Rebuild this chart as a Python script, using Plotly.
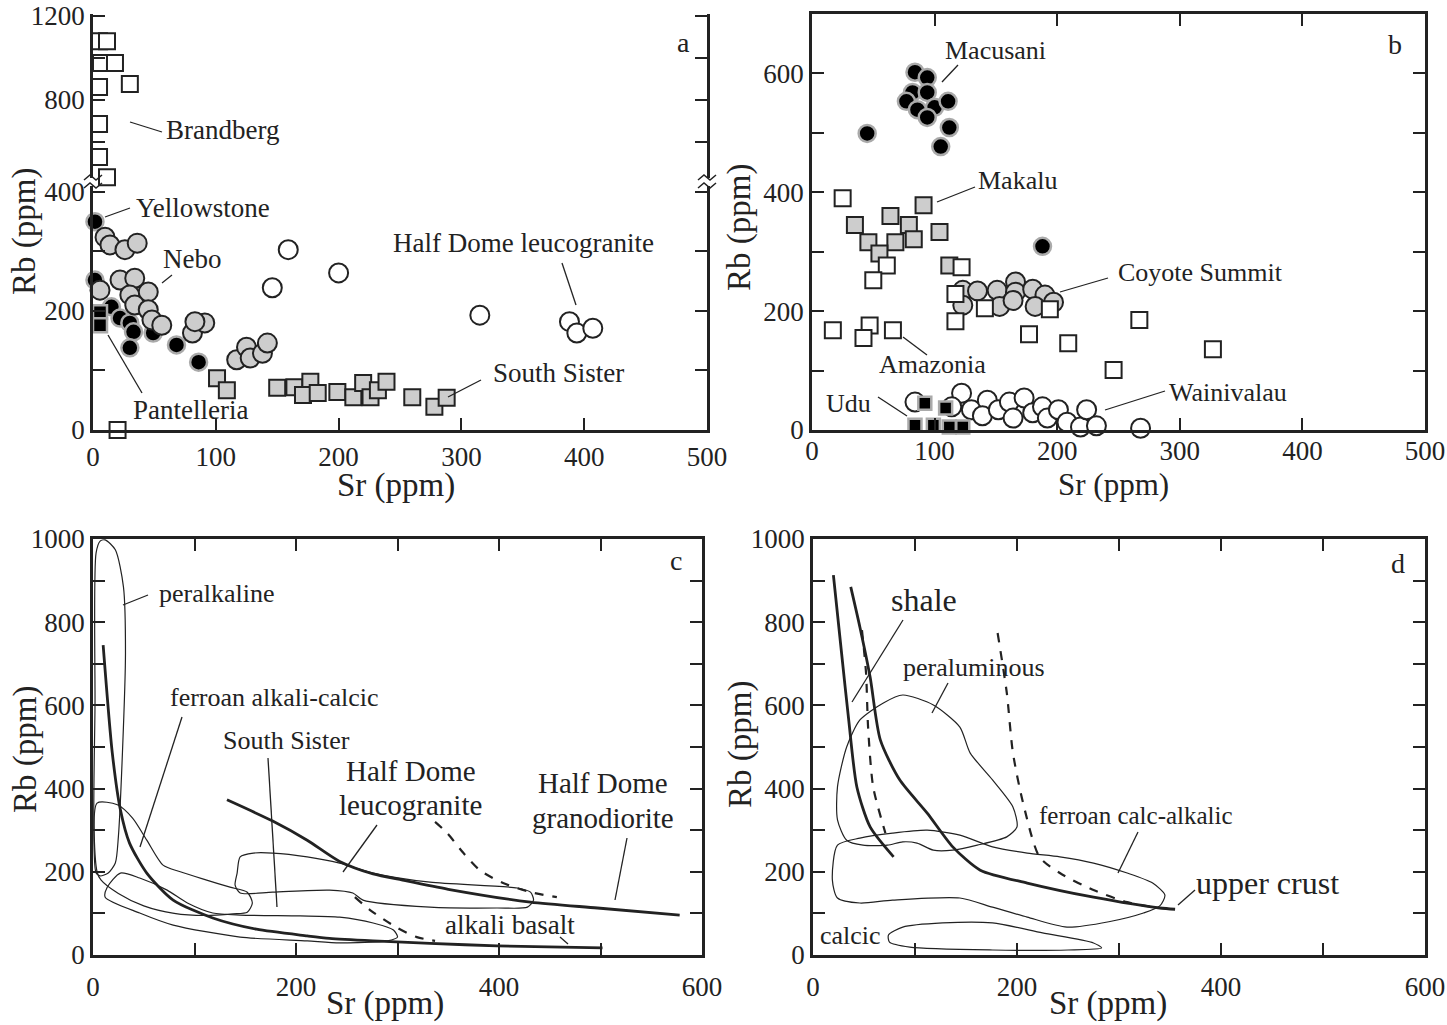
import plotly.graph_objects as go

W, H = 1447, 1025
FONT = "Liberation Serif"
INK = "#222222"
GRAY = "#cdcdcd"

# ---------------- Panel a data (Sr, Rb ppm) ----------------
a_brandberg_sr = [4.9, 11.4, 6.5, 17.9, 4.9, 30, 4.9, 4.9, 11.4]
a_brandberg_rb = [1080, 1080, 976, 976, 862, 876, 686, 529, 432]
a_brandberg_low_sr = [20]
a_brandberg_low_rb = [0]
a_yellow_sr = [1.6, 1.6, 15, 22, 30, 33, 49, 30, 68, 86]
a_yellow_rb = [350, 252, 207, 188, 180, 165, 163, 138, 143, 114]
a_nebo_sr = [9.8, 13.8, 26, 36, 5.7, 22, 34, 30, 45, 34, 45, 48, 56, 81, 91, 83, 117, 125, 128, 138, 142]
a_nebo_rb = [324, 311, 303, 314, 235, 252, 255, 227, 232, 210, 202, 185, 176, 163, 180, 182, 118, 139, 121, 129, 146]
a_pant_sr = [5.7, 5.7]
a_pant_rb = [198, 176]
a_halfdome_sr = [159, 200, 146, 315, 388, 394, 407]
a_halfdome_rb = [303, 264, 239, 193, 182, 163, 171]
a_south_sr = [101, 109, 150, 164, 177, 171, 183, 199, 212, 220, 226, 232, 239, 260, 278, 288]
a_south_rb = [87, 67, 71, 72, 81, 59, 62, 64, 55, 79, 55, 67, 81, 55, 39, 54]

# ---------------- Panel b data ----------------
b_macusani_sr = [84, 94, 82, 94, 77, 86, 100, 111, 94, 112, 45, 105, 188]
b_macusani_rb = [602, 593, 568, 568, 553, 539, 543, 553, 526, 509, 499, 477, 309]
b_makalu_sr = [91, 35, 64, 79, 46, 68, 83, 55, 104, 112]
b_makalu_rb = [378, 345, 360, 345, 316, 316, 321, 297, 333, 277]
b_coyote_sr = [123, 135, 151, 166, 166, 180, 190, 197, 123, 153, 164, 182]
b_coyote_rb = [235, 234, 235, 249, 232, 237, 227, 215, 210, 208, 218, 208]
b_amazonia_sr = [25, 61, 50, 122, 117, 117, 141, 194, 17, 47, 42, 66, 177, 209, 267, 246, 327]
b_amazonia_rb = [390, 277, 252, 274, 229, 183, 205, 203, 168, 176, 155, 168, 161, 146, 185, 101, 136]
b_waini_sr = [84, 122, 114, 130, 143, 139, 152, 161, 164, 173, 180, 188, 192, 201, 208, 219, 224, 232, 268]
b_waini_rb = [47, 62, 39, 34, 50, 24, 34, 47, 20, 54, 29, 39, 20, 34, 13, 5, 34, 7, 3]
b_udu_sr = [92, 84, 99, 109, 112, 123]
b_udu_rb = [45, 8, 8, 37, 5, 5]

# ---------------- Panel c data (fields and trends) ----------------
c_peralk_sr = [3, 2, 3, 7, 12, 22, 30, 32, 29, 25, 22, 15, 7, 3]
c_peralk_rb = [197, 613, 966, 995, 998, 974, 885, 726, 486, 284, 221, 197, 190, 197]
c_fac_sr = [4, 24, 39, 53, 69, 86, 112, 135, 152, 157, 152, 138, 110, 80, 50, 25, 8, 4, 4]
c_fac_rb = [365, 361, 329, 276, 216, 200, 180, 163, 151, 125, 103, 99, 95, 100, 118, 148, 180, 200, 365]
c_ss_sr = [14, 27, 46, 73, 93, 118, 145, 204, 243, 276, 296, 300, 290, 243, 211, 145, 79, 46, 12, 14]
c_ss_rb = [163, 197, 185, 156, 125, 101, 96, 94, 91, 77, 60, 43, 34, 29, 34, 43, 72, 101, 139, 163]
c_hdl_sr = [142, 145, 158, 177, 211, 243, 276, 332, 418, 431, 434, 428, 398, 332, 266, 256, 233, 177, 145, 140, 142]
c_hdl_rb = [197, 236, 245, 245, 236, 221, 197, 175, 161, 151, 132, 115, 113, 115, 132, 149, 156, 151, 149, 168, 197]
c_trend1_sr = [10, 19, 27, 36, 53, 79, 118, 161, 211, 233, 276, 332, 398, 502]
c_trend1_rb = [745, 486, 349, 269, 197, 132, 89, 62, 46, 40, 34, 28, 22, 17]
c_grano_sr = [132, 177, 211, 243, 276, 305, 350, 431, 497, 578]
c_grano_rb = [373, 322, 276, 225, 195, 180, 158, 127, 113, 96]
c_dash1_sr = [337, 349, 365, 381, 404, 431, 457]
c_dash1_rb = [320, 293, 245, 204, 173, 151, 139]
c_dash2_sr = [258, 273, 300, 319, 337]
c_dash2_rb = [139, 108, 65, 43, 34]

# ---------------- Panel d data ----------------
d_lineA_sr = [20, 28, 35, 43, 56, 79]
d_lineA_rb = [913, 726, 565, 404, 308, 236]
d_lineB_sr = [37, 46, 56, 66, 85, 112, 137, 164, 210, 275, 340, 355]
d_lineB_rb = [885, 788, 668, 517, 421, 341, 260, 204, 173, 139, 113, 110]
d_dash1_sr = [48, 52, 54, 59, 71]
d_dash1_rb = [781, 678, 548, 404, 293]
d_dash2_sr = [181, 190, 196, 206, 222, 242, 275, 308, 340, 355]
d_dash2_rb = [774, 630, 486, 365, 236, 197, 156, 127, 113, 110]
d_peral_sr = [88, 118, 144, 154, 176, 196, 200, 190, 161, 137, 118, 102, 88, 73, 49, 33, 24, 24, 33, 46, 69, 88]
d_peral_rb = [625, 601, 548, 486, 421, 356, 308, 284, 264, 252, 252, 269, 272, 264, 264, 276, 325, 404, 500, 565, 606, 625]
d_fca_sr = [24, 46, 78, 112, 144, 176, 210, 242, 275, 308, 333, 345, 340, 324, 290, 249, 210, 176, 144, 78, 46, 24, 19, 24]
d_fca_rb = [264, 281, 293, 300, 288, 260, 245, 236, 221, 197, 173, 144, 118, 101, 80, 67, 91, 115, 137, 132, 125, 137, 180, 264]
d_calcic_sr = [74, 88, 127, 176, 225, 275, 283, 250, 176, 95, 75, 74]
d_calcic_rb = [48, 67, 77, 77, 53, 29, 17, 12, 12, 19, 31, 48]


def px(x):
    return x / W


def py(y):
    return 1 - y / H


fig = go.Figure()


def pts(x, y, xa, ya, symbol, fill, lcol=INK, size=18, lw=2):
    fig.add_trace(go.Scatter(
        x=x, y=y, xaxis=xa, yaxis=ya, mode="markers", cliponaxis=False,
        marker=dict(symbol=symbol, size=size, color=fill, line=dict(color=lcol, width=lw)),
        showlegend=False, hoverinfo="skip"))


def curve(x, y, xa, ya, width=1.2, dash="solid", smooth=0.7):
    fig.add_trace(go.Scatter(
        x=x, y=y, xaxis=xa, yaxis=ya, mode="lines", cliponaxis=False,
        line=dict(color=INK, width=width, dash=dash, shape="spline", smoothing=smooth),
        showlegend=False, hoverinfo="skip"))


# Panel a
pts(a_brandberg_sr, a_brandberg_rb, "x", "y2", "square", "white", size=16)
pts(a_brandberg_low_sr, a_brandberg_low_rb, "x", "y", "square", "white", size=16)
pts(a_halfdome_sr, a_halfdome_rb, "x", "y", "circle", "white", size=19)
pts(a_yellow_sr, a_yellow_rb, "x", "y", "circle", "black", lcol="#aaaaaa", size=17, lw=2.5)
pts(a_nebo_sr, a_nebo_rb, "x", "y", "circle", GRAY, size=19)
pts(a_pant_sr, a_pant_rb, "x", "y", "square", "black", lcol="#aaaaaa", size=14, lw=2.5)
pts(a_south_sr, a_south_rb, "x", "y", "square", GRAY, size=16)

# Panel b
pts(b_macusani_sr, b_macusani_rb, "x2", "y3", "circle", "black", lcol="#aaaaaa", size=17, lw=2.5)
pts(b_coyote_sr, b_coyote_rb, "x2", "y3", "circle", GRAY, size=19)
pts(b_makalu_sr, b_makalu_rb, "x2", "y3", "square", GRAY, size=16)
pts(b_amazonia_sr, b_amazonia_rb, "x2", "y3", "square", "white", size=16)
pts(b_waini_sr, b_waini_rb, "x2", "y3", "circle", "white", size=19)
pts(b_udu_sr, b_udu_rb, "x2", "y3", "square", "black", lcol="#aaaaaa", size=13, lw=2.5)

# Panel c
curve(c_peralk_sr, c_peralk_rb, "x3", "y4")
curve(c_fac_sr, c_fac_rb, "x3", "y4")
curve(c_ss_sr, c_ss_rb, "x3", "y4")
curve(c_hdl_sr, c_hdl_rb, "x3", "y4")
curve(c_trend1_sr, c_trend1_rb, "x3", "y4", width=2.8)
curve(c_grano_sr, c_grano_rb, "x3", "y4", width=2.8)
curve(c_dash1_sr, c_dash1_rb, "x3", "y4", width=2.2, dash="dash")
curve(c_dash2_sr, c_dash2_rb, "x3", "y4", width=2.2, dash="dash")

# Panel d
curve(d_peral_sr, d_peral_rb, "x4", "y5")
curve(d_fca_sr, d_fca_rb, "x4", "y5")
curve(d_calcic_sr, d_calcic_rb, "x4", "y5")
curve(d_lineA_sr, d_lineA_rb, "x4", "y5", width=2.8)
curve(d_lineB_sr, d_lineB_rb, "x4", "y5", width=2.8)
curve(d_dash1_sr, d_dash1_rb, "x4", "y5", width=2.2, dash="dash")
curve(d_dash2_sr, d_dash2_rb, "x4", "y5", width=2.2, dash="dash")

tickfont = dict(family=FONT, size=27, color=INK)
axbase = dict(showgrid=False, zeroline=False, showline=True, linecolor=INK, linewidth=2.5,
              ticks="inside", ticklen=12, tickwidth=2, tickcolor=INK, tickfont=tickfont,
              automargin=False)


def lbl(vals, every):
    return [str(v) if v % every == 0 else "" for v in vals]


xa_dom = [px(93), px(707)]
xb_dom = [px(812), px(1425)]
xc_dom = [px(93), px(702)]
xd_dom = [px(813), px(1425)]
ya_low = [py(430), py(186)]
ya_up = [py(178), py(14)]
yb_dom = [py(430), py(14)]
ycd_dom = [py(955), py(539)]

t500 = [0, 100, 200, 300, 400, 500]
t600 = [0, 100, 200, 300, 400, 500, 600]
t700 = [0, 100, 200, 300, 400, 500, 600, 700]
t1000 = list(range(0, 1001, 100))

fig.update_layout(
    template="none",
    width=W, height=H, margin=dict(l=0, r=0, t=0, b=0, pad=0), autosize=False,
    paper_bgcolor="white", plot_bgcolor="white", showlegend=False,
    xaxis=dict(axbase, domain=xa_dom, range=[0, 500], anchor="y", tickvals=t500, mirror=False,
               ticklabelstandoff=1),
    xaxis5=dict(axbase, domain=xa_dom, range=[0, 500], anchor="y2", overlaying="x", side="top",
                tickvals=[100, 200, 300, 400], showticklabels=False),
    yaxis=dict(axbase, domain=ya_low, range=[0, 410], anchor="x", mirror="ticks",
               tickvals=[0, 100, 200, 300, 400], ticktext=["0", "", "200", "", "400"]),
    yaxis2=dict(axbase, domain=ya_up, range=[429, 1209.5], anchor="x", mirror="ticks",
                tickvals=[600, 800, 1000, 1200], ticktext=["", "800", "", "1200"]),
    xaxis2=dict(axbase, domain=xb_dom, range=[0, 500], anchor="y3", tickvals=t500, mirror="ticks",
                ticklabelstandoff=-5),
    yaxis3=dict(axbase, domain=yb_dom, range=[0, 700], anchor="x2", mirror="ticks",
                tickvals=t700, ticktext=lbl(t700, 200)),
    xaxis3=dict(axbase, domain=xc_dom, range=[0, 600], anchor="y4", mirror="ticks",
                tickvals=t600, ticktext=lbl(t600, 200), ticklabelstandoff=6),
    yaxis4=dict(axbase, domain=ycd_dom, range=[0, 1000], anchor="x3", mirror="ticks",
                tickvals=t1000, ticktext=lbl(t1000, 200)),
    xaxis4=dict(axbase, domain=xd_dom, range=[0, 600], anchor="y5", mirror="ticks",
                tickvals=t600, ticktext=lbl(t600, 200), ticklabelstandoff=6),
    yaxis5=dict(axbase, domain=ycd_dom, range=[0, 1000], anchor="x4", mirror="ticks",
                tickvals=t1000, ticktext=lbl(t1000, 200)),
)

# ---------- labels ----------
labels = [
    ("a", 683, 42, 28), ("b", 1395, 44, 28), ("c", 676, 560, 28), ("d", 1398, 563, 28),
    ("Brandberg", 222, 130, 27), ("Yellowstone", 203, 208, 27), ("Nebo", 192, 259, 27),
    ("Pantelleria", 190, 410, 27), ("Half Dome leucogranite", 523, 243, 27),
    ("South Sister", 558, 373, 27),
    ("Macusani", 995, 50, 26), ("Makalu", 1017, 181, 26), ("Coyote Summit", 1200, 272, 26),
    ("Amazonia", 932, 364, 26), ("Udu", 848, 403, 26), ("Wainivalau", 1228, 392, 26),
    ("peralkaline", 217, 593, 26), ("ferroan alkali-calcic", 274, 697, 26),
    ("South Sister", 286, 740, 26), ("Half Dome", 411, 771, 29), ("leucogranite", 411, 805, 29),
    ("Half Dome", 603, 783, 29), ("granodiorite", 603, 818, 29), ("alkali basalt", 510, 925, 27),
    ("shale", 924, 600, 32), ("peraluminous", 974, 667, 26), ("ferroan calc-alkalic", 1136, 815, 25),
    ("upper crust", 1267, 883, 32), ("calcic", 850, 935, 26),
]
ann = []
for t, x, y, s in labels:
    ann.append(dict(text=t, x=px(x), y=py(y), xref="paper", yref="paper", showarrow=False,
                    xanchor="center", yanchor="middle", font=dict(family=FONT, size=s, color=INK)))
for x, y in [(25, 232), (25, 750), (740, 228), (740, 745)]:
    ann.append(dict(text="Rb (ppm)", x=px(x), y=py(y), xref="paper", yref="paper", showarrow=False,
                    xanchor="center", yanchor="middle",
                    textangle=-90, font=dict(family=FONT, size=33, color=INK)))
for x, y, s in [(396, 485, 33), (1113, 484, 31), (385, 1003, 33), (1108, 1003, 33)]:
    ann.append(dict(text="Sr (ppm)", x=px(x), y=py(y), xref="paper", yref="paper", showarrow=False,
                    xanchor="center", yanchor="middle",
                    font=dict(family=FONT, size=s, color=INK)))
fig.update_layout(annotations=ann)

leaders = [
    (130, 122, 162, 132), (105, 217, 130, 208), (162, 283, 172, 275), (108, 335, 142, 393),
    (562, 263, 576, 305), (448, 397, 481, 380),
    (942, 82, 958, 65), (937, 202, 975, 187), (1060, 292, 1108, 278), (903, 337, 927, 355),
    (878, 397, 907, 416), (1105, 410, 1165, 391),
    (123, 605, 148, 595), (182, 717, 140, 847), (268, 758, 277, 907), (377, 825, 343, 872),
    (627, 838, 615, 900), (560, 937, 568, 944),
    (903, 620, 852, 702), (948, 683, 932, 713), (1138, 832, 1118, 873), (1178, 905, 1195, 890),
]
shapes = []
for x0, y0, x1, y1 in leaders:
    shapes.append(dict(type="line", xref="paper", yref="paper", x0=px(x0), y0=py(y0),
                       x1=px(x1), y1=py(y1), line=dict(color=INK, width=1.3)))
# axis-break marks on panel a
for bx in (93, 707):
    for dy in (-4, 4):
        yy = 182 + dy
        path = "M {:.5f},{:.5f} L {:.5f},{:.5f} L {:.5f},{:.5f} L {:.5f},{:.5f}".format(
            px(bx - 9), py(yy + 2), px(bx - 3), py(yy - 3), px(bx + 3), py(yy + 2), px(bx + 9), py(yy - 3))
        shapes.append(dict(type="path", xref="paper", yref="paper", path=path,
                           line=dict(color=INK, width=1.5)))
fig.update_layout(shapes=shapes)

fig.write_html("out.html")
